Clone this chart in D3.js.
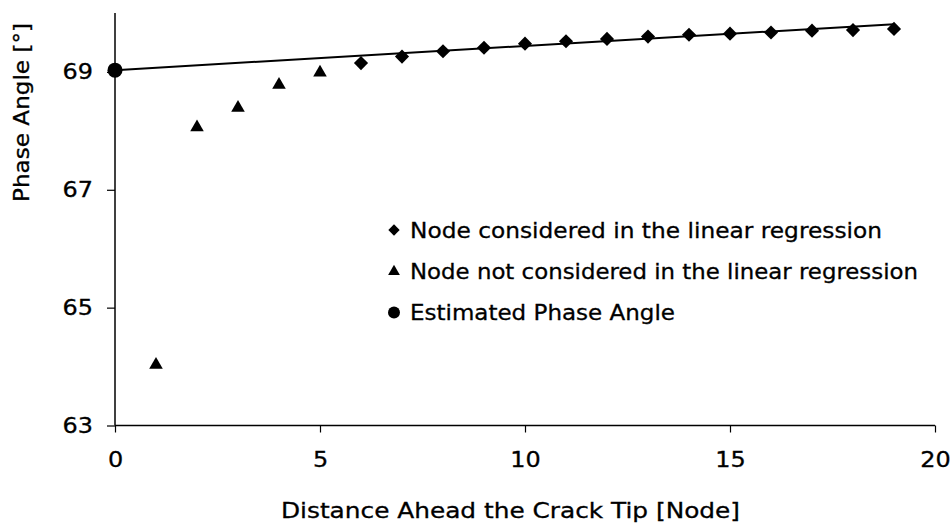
<!DOCTYPE html>
<html>
<head>
<meta charset="utf-8">
<script src="https://cdn.jsdelivr.net/npm/d3@7"></script>
<style>
  html, body { margin: 0; padding: 0; background: #fff; }
  svg { display: block; font-family: "DejaVu Sans", Verdana, sans-serif; }
  svg text { stroke: #000; stroke-width: 0.3px; }
</style>
</head>
<body>
<svg id="chart" width="951" height="526"></svg>
<script>
// ---- data ----
const estimatedX = [0];
const estimatedY = [69.03];
const excludedX = [1, 2, 3, 4, 5];
const excludedY = [64.03, 68.06, 68.39, 68.78, 68.99];
const includedX = [6, 7, 8, 9, 10, 11, 12, 13, 14, 15, 16, 17, 18, 19];
const includedY = [69.15, 69.26, 69.35, 69.41, 69.48, 69.52, 69.56, 69.60, 69.63, 69.65, 69.67, 69.70, 69.71, 69.73];
const regressionX = [0, 19];
const regressionY = [69.03, 69.81];
const xTicks = [0, 5, 10, 15, 20];
const yTicks = [63, 65, 67, 69];
const legendLabels = [
  "Node considered in the linear regression",
  "Node not considered in the linear regression",
  "Estimated Phase Angle"
];
const xTitle = "Distance Ahead the Crack Tip [Node]";
const yTitle = "Phase Angle [°]";

// ---- layout ----
const svg = d3.select("#chart");
const x = d3.scaleLinear().domain([0, 20]).range([115, 935]);
const y = d3.scaleLinear().domain([63, 70]).range([425.5, 13]);
const FS = "21px";
const STRETCH = 1.14;
function widen(sel, k) {
  sel.each(function () {
    const w = this.getComputedTextLength();
    d3.select(this).attr("textLength", w * k).attr("lengthAdjust", "spacingAndGlyphs");
  });
}

// axes
const xAxis = d3.axisBottom(x).tickValues(xTicks).tickSize(7).tickPadding(20).tickFormat(d3.format("d"));
const yAxis = d3.axisLeft(y).tickValues(yTicks).tickSize(8).tickPadding(14).tickFormat(d3.format("d"));

const gx = svg.append("g").attr("transform", `translate(0,${y(63)})`).call(xAxis);
const gy = svg.append("g").attr("transform", `translate(${x(0)},0)`).call(yAxis);
[gx, gy].forEach(g => {
  g.select(".domain").attr("stroke", "#000").attr("stroke-width", 1.5);
  g.selectAll(".tick line").attr("stroke", "#000").attr("stroke-width", 1.2);
  g.selectAll(".tick text").attr("fill", "#000").style("font-size", FS)
    .style("font-family", "'DejaVu Sans', Verdana, sans-serif");
});
gx.select(".domain").attr("d", `M${x(0)},0H${x(20)}`);
gy.select(".domain").attr("d", `M0,${y(63)}V${y(70)}`);
gx.selectAll(".tick text").attr("dy", "0.71em");
widen(gx.selectAll(".tick text"), STRETCH);
widen(gy.selectAll(".tick text"), STRETCH);

// axis titles
svg.append("text").attr("x", 510.5).attr("y", 518).attr("text-anchor", "middle")
  .style("font-size", FS).attr("fill", "#000").attr("textLength", 459)
  .attr("lengthAdjust", "spacingAndGlyphs").text(xTitle);
svg.append("text").attr("transform", `translate(29,112.5) rotate(-90)`).attr("text-anchor", "middle")
  .style("font-size", FS).attr("fill", "#000").attr("textLength", 179)
  .attr("lengthAdjust", "spacingAndGlyphs").text(yTitle);

// regression line
const line = d3.line().x(d => x(d[0])).y(d => y(d[1]));
svg.append("path").datum(regressionX.map((v, i) => [v, regressionY[i]]))
  .attr("d", line).attr("fill", "none").attr("stroke", "#000").attr("stroke-width", 2);

// markers
svg.append("g").selectAll("path").data(includedX.map((v, i) => [v, includedY[i]])).join("path")
  .attr("d", d3.symbol().type(d3.symbolSquare).size(100)())
  .attr("transform", d => `translate(${x(d[0])},${y(d[1])}) rotate(45)`)
  .attr("fill", "#000");

svg.append("g").selectAll("path").data(excludedX.map((v, i) => [v, excludedY[i]])).join("path")
  .attr("transform", d => `translate(${x(d[0])},${y(d[1])})`)
  .attr("d", d3.symbol().type(d3.symbolTriangle).size(80)()).attr("fill", "#000");

svg.append("g").selectAll("circle").data(estimatedX.map((v, i) => [v, estimatedY[i]])).join("circle")
  .attr("cx", d => x(d[0])).attr("cy", d => y(d[1])).attr("r", 7.5).attr("fill", "#000");

// legend
const lg = svg.append("g");
const legBase = [237.5, 278.5, 320];
const legW = [472, 508, 265];
lg.append("path").attr("transform", `translate(394,${legBase[0] - 7.5}) rotate(45)`)
  .attr("d", d3.symbol().type(d3.symbolSquare).size(64)()).attr("fill", "#000");
lg.append("path").attr("transform", `translate(394,${legBase[1] - 7})`)
  .attr("d", d3.symbol().type(d3.symbolTriangle).size(60)()).attr("fill", "#000");
lg.append("circle").attr("cx", 394).attr("cy", legBase[2] - 7.5).attr("r", 6).attr("fill", "#000");
legendLabels.forEach((t, i) => {
  lg.append("text").attr("x", 410).attr("y", legBase[i])
    .style("font-size", FS).attr("fill", "#000")
    .attr("textLength", legW[i]).attr("lengthAdjust", "spacingAndGlyphs").text(t);
});
</script>
</body>
</html>
